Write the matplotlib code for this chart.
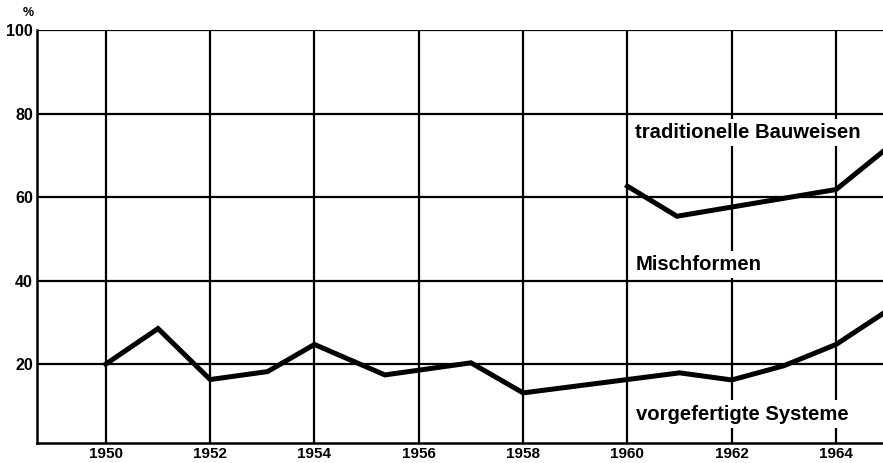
import matplotlib
matplotlib.use("Agg")
import matplotlib.pyplot as plt

# prefabricated systems (lower line)
years_low = [1950, 1951, 1952, 1953.1, 1954, 1955.35, 1957, 1958, 1961, 1962, 1963, 1964, 1964.9]
vals_low = [20, 28.5, 16.3, 18.2, 24.7, 17.4, 20.3, 13.1, 17.9, 16.2, 19.6, 24.7, 32.1]

# traditional building (upper line)
years_up = [1960, 1960.95, 1964, 1964.9]
vals_up = [62.6, 55.4, 61.8, 70.9]

xticks = [1950, 1952, 1954, 1956, 1958, 1960, 1962, 1964]
yticks = [20, 40, 60, 80, 100]

labels = [("traditionelle Bauweisen", 1960.14, 75.5),
          ("Mischformen", 1960.16, 43.8),
          ("vorgefertigte Systeme", 1960.16, 8.0)]

plt.rcParams['font.family'] = ['Liberation Sans', 'DejaVu Sans']

fig = plt.figure(figsize=(8.83, 4.63), dpi=100)
ax = fig.add_axes([37 / 883, 20 / 463, 1 - 37 / 883, (443 - 30) / 463])

ax.set_xlim(1948.68, 1964.9)
ax.set_ylim(1.1, 100)

# grid drawn by hand so it sits under the lines
for x in xticks:
    ax.axvline(x, color='black', lw=1.6, zorder=1)
for y in yticks:
    ax.axhline(y, color='black', lw=1.6, zorder=1)

ax.plot(years_low, vals_low, color='black', lw=3.6, solid_joinstyle='miter', zorder=3)
ax.plot(years_up, vals_up, color='black', lw=3.6, solid_joinstyle='miter', zorder=3)

for txt, x, y in labels:
    ax.text(x, y, txt, fontsize=14.6, fontweight='bold', va='center', ha='left', zorder=4,
            bbox=dict(facecolor='white', edgecolor='none', pad=3))

for s in ['top', 'right']:
    ax.spines[s].set_visible(False)
ax.spines['left'].set_linewidth(1.8)
ax.spines['bottom'].set_linewidth(1.8)

ax.set_xticks(xticks)
ax.set_xticklabels([str(x) for x in xticks], fontsize=11, fontweight='bold')
ax.set_yticks(yticks)
ax.set_yticklabels([str(y) for y in yticks], fontsize=11.5, fontweight='bold')
ax.tick_params(length=0, pad=3)

fig.text(28 / 883, 1 - 13 / 463, '%', fontsize=9, fontweight='bold', ha='center', va='center')

fig.savefig('out.png', dpi=100)
